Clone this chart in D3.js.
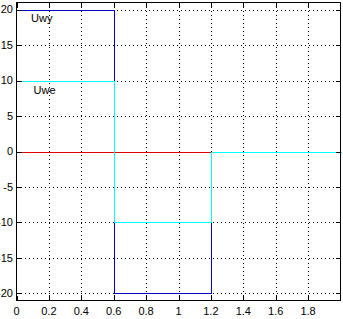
<!DOCTYPE html>
<html>
<head>
<meta charset="utf-8">
<script src="https://d3js.org/d3.v7.min.js"></script>
<style>
  body { margin: 0; background: #fff; }
  text { font-family: "Liberation Sans", Arial, sans-serif; font-size: 11px; fill: #000; }
  .grid line { stroke: #000; stroke-width: 1; stroke-dasharray: 1,3; shape-rendering: crispEdges; }
  .sig { fill: none; stroke-width: 1; shape-rendering: crispEdges; }
</style>
</head>
<body>
<script>
// step signals
const t    = [0, 0.6, 0.6, 1.2, 1.2, 2];
const uwy  = [20, 20, -20, -20, 0, 0];
const uwe  = [10, 10, -10, -10, 0, 0];
const tRed = [0, 2];
const red  = [0, 0];

const xTicks = [0, 0.2, 0.4, 0.6, 0.8, 1, 1.2, 1.4, 1.6, 1.8];
const yTicks = [-20, -15, -10, -5, 0, 5, 10, 15, 20];
const labels = [
  {text: "Uwy", x: 0.09, y: 18.2},
  {text: "Uwe", x: 0.105, y: 8.1}
];

const W = 343, H = 319;
const pL = 16.5, pR = 340.5, pT = 2.5, pB = 300.5;

const x = d3.scaleLinear().domain([0, 2]).range([pL, pR]);
const y = d3.scaleLinear().domain([-21, 21]).range([pB, pT]);

const svg = d3.select("body").append("svg")
  .attr("width", W).attr("height", H);

// dotted grid
const grid = svg.append("g").attr("class", "grid");
grid.selectAll(".gx").data(xTicks.filter(d => d > 0)).join("line")
  .attr("class", "gx")
  .attr("x1", d => Math.round(x(d)) + 0.5).attr("x2", d => Math.round(x(d)) + 0.5)
  .attr("y1", pT).attr("y2", pB);
grid.selectAll(".gy").data(yTicks).join("line")
  .attr("class", "gy")
  .attr("x1", pL).attr("x2", pR)
  .attr("y1", d => Math.round(y(d)) + 0.5).attr("y2", d => Math.round(y(d)) + 0.5);

// signals
const line = (xs, ys) => d3.line()(xs.map((v, i) => [Math.round(x(v)) + 0.5, Math.round(y(ys[i])) + 0.5]));
svg.append("path").attr("class", "sig").attr("stroke", "#0000c8").attr("d", line(t, uwy));
svg.append("path").attr("class", "sig").attr("stroke", "#e00000").attr("d", line(tRed, red));
svg.append("path").attr("class", "sig").attr("stroke", "#00ffff").attr("d", line(t, uwe));

// box with inward ticks
const ax = svg.append("g").attr("stroke", "#000").attr("shape-rendering", "crispEdges");
ax.append("rect").attr("x", pL).attr("y", pT)
  .attr("width", pR - pL).attr("height", pB - pT).attr("fill", "none");
const tk = 5;
xTicks.forEach(d => {
  const px = Math.round(x(d)) + 0.5;
  ax.append("line").attr("x1", px).attr("x2", px).attr("y1", pB).attr("y2", pB - tk);
  ax.append("line").attr("x1", px).attr("x2", px).attr("y1", pT).attr("y2", pT + tk);
});
yTicks.forEach(d => {
  const py = Math.round(y(d)) + 0.5;
  ax.append("line").attr("x1", pL).attr("x2", pL + tk).attr("y1", py).attr("y2", py);
  ax.append("line").attr("x1", pR).attr("x2", pR - tk).attr("y1", py).attr("y2", py);
});

// tick labels
svg.append("g").selectAll("text").data(xTicks).join("text")
  .attr("x", d => x(d)).attr("y", 314.5)
  .attr("text-anchor", "middle")
  .text(d => d3.format("~g")(d));
svg.append("g").selectAll("text").data(yTicks).join("text")
  .attr("x", 13).attr("y", d => y(d)).attr("dy", "0.35em")
  .attr("text-anchor", "end")
  .text(d => d);

// signal names
svg.append("g").selectAll("text").data(labels).join("text")
  .attr("x", d => x(d.x)).attr("y", d => y(d.y))
  .text(d => d.text);
</script>
</body>
</html>
